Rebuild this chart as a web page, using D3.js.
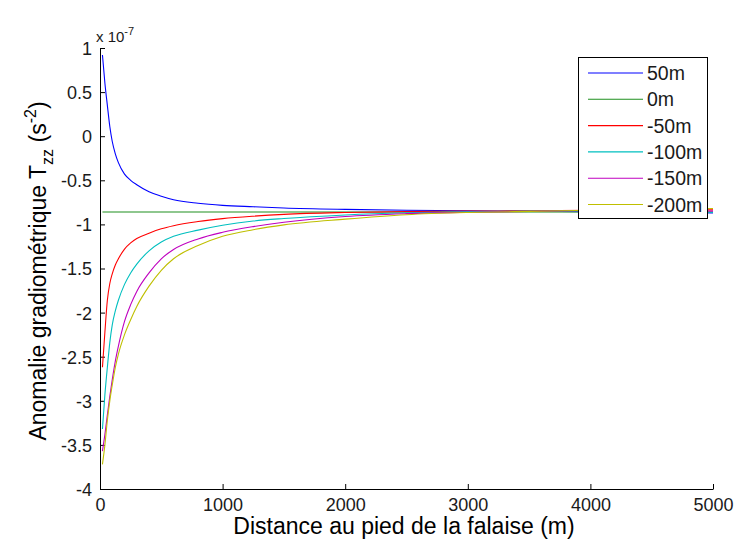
<!DOCTYPE html>
<html><head><meta charset="utf-8">
<script src="https://cdn.jsdelivr.net/npm/d3@7"></script>
<style>
html,body{margin:0;padding:0;background:#fff;}
svg{display:block;font-family:"Liberation Sans",Arial,sans-serif;}
</style></head>
<body><svg id="chart" width="738" height="544"></svg>
<script>
// distances (m)
const distances = [20, 40, 60, 80, 100, 125, 150, 200, 250, 300, 400, 500, 600, 800, 1000, 1250, 1500, 2000, 2500, 3000, 3500, 4000, 4500, 5000];
// Tzz anomaly in units of 1e-7 s^-2
const s50   = [0.92, 0.60, 0.35, 0.11, -0.06, -0.20, -0.30, -0.43, -0.50, -0.55, -0.63, -0.68, -0.72, -0.76, -0.784, -0.80, -0.814, -0.83, -0.84, -0.845, -0.85, -0.855, -0.86, -0.87];
const s0    = [-0.86, -0.86, -0.86, -0.86, -0.86, -0.86, -0.86, -0.86, -0.86, -0.86, -0.86, -0.86, -0.86, -0.86, -0.86, -0.86, -0.86, -0.86, -0.86, -0.86, -0.86, -0.86, -0.86, -0.86];
const sm50  = [-2.62, -2.22, -1.86, -1.67, -1.56, -1.46, -1.39, -1.28, -1.21, -1.16, -1.10, -1.05, -1.015, -0.968, -0.935, -0.907, -0.886, -0.865, -0.855, -0.85, -0.845, -0.84, -0.835, -0.835];
const sm100 = [-3.32, -2.93, -2.62, -2.34, -2.14, -1.98, -1.86, -1.68, -1.55, -1.45, -1.30, -1.20, -1.135, -1.065, -1.01, -0.962, -0.933, -0.893, -0.868, -0.855, -0.85, -0.85, -0.855, -0.865];
const sm150 = [-3.57, -3.38, -3.16, -2.95, -2.76, -2.55, -2.38, -2.10, -1.91, -1.76, -1.55, -1.39, -1.285, -1.165, -1.09, -1.025, -0.975, -0.91, -0.878, -0.862, -0.852, -0.845, -0.845, -0.85];
const sm200 = [-3.72, -3.50, -3.22, -3.00, -2.82, -2.62, -2.47, -2.25, -2.08, -1.93, -1.70, -1.52, -1.39, -1.24, -1.135, -1.06, -1.005, -0.94, -0.89, -0.865, -0.852, -0.84, -0.83, -0.82];
const seriesNames = ["50m", "0m", "-50m", "-100m", "-150m", "-200m"];
const seriesValues = [s50, s0, sm50, sm100, sm150, sm200];
const seriesColors = ["#0000ff", "#1f8f1f", "#ff0000", "#00bfbf", "#bf00bf", "#bfbf00"];
const xTicks = [0, 1000, 2000, 3000, 4000, 5000];
const yTicks = [1, 0.5, 0, -0.5, -1, -1.5, -2, -2.5, -3, -3.5, -4];

const svg = d3.select("#chart");
const L = 100, R = 713, T = 48, B = 489;
const x = d3.scaleLinear().domain([0, 5000]).range([L, R]);
const y = d3.scaleLinear().domain([-4, 1]).range([B, T]);

// axes
const xAxis = d3.axisBottom(x).tickValues(xTicks).tickSizeInner(-5).tickSizeOuter(0).tickPadding(9).tickFormat(d3.format("d"));
const gx = svg.append("g").attr("transform", `translate(0,${B})`).call(xAxis);
const yAxis = d3.axisLeft(y).tickValues(yTicks).tickSizeInner(-5).tickSizeOuter(0).tickPadding(8).tickFormat(d => String(d));
const gy = svg.append("g").attr("transform", `translate(${L},0)`).call(yAxis);
[gx, gy].forEach(g => {
  g.selectAll("path").attr("stroke", "#000").attr("stroke-width", 1);
  g.selectAll("line").attr("stroke", "#000");
  g.selectAll("text").attr("fill", "#1a1a1a").style("font-size", "18px").style("font-family", "'Liberation Sans', Arial, sans-serif");
});
gy.selectAll("text").attr("dy", "0.36em");

// exponent label
const ex = svg.append("text").attr("x", 96).attr("y", 42).attr("fill", "#1a1a1a").style("font-size", "15px");
ex.append("tspan").text("x 10");
ex.append("tspan").attr("dy", -7).style("font-size", "11px").text("-7");

// lines
const line = d3.line().x((d, i) => x(distances[i])).y(d => y(d)).curve(d3.curveMonotoneX);
seriesValues.forEach((vals, k) => {
  svg.append("path").datum(vals).attr("d", line)
    .attr("fill", "none").attr("stroke", seriesColors[k]).attr("stroke-width", 1.1);
});

// axis titles
svg.append("text").attr("x", 404).attr("y", 534).attr("text-anchor", "middle")
  .style("font-size", "23px").attr("fill", "#000").text("Distance au pied de la falaise (m)");
const yl = svg.append("text").attr("transform", "translate(46,271) rotate(-90)").attr("text-anchor", "middle")
  .style("font-size", "23px").attr("fill", "#000");
yl.append("tspan").text("Anomalie gradiométrique T");
yl.append("tspan").attr("dy", 7).style("font-size", "16px").text("zz");
yl.append("tspan").attr("dy", -7).text(" (s");
yl.append("tspan").attr("dy", -10).style("font-size", "16px").text("-2");
yl.append("tspan").attr("dy", 10).text(")");

// legend
const lg = svg.append("g");
lg.append("rect").attr("x", 578.5).attr("y", 57.5).attr("width", 129).attr("height", 161)
  .attr("fill", "#fff").attr("stroke", "#000").attr("stroke-width", 1);
seriesNames.forEach((n, k) => {
  const yy = 73 + k * 26.3;
  lg.append("line").attr("x1", 588).attr("x2", 643).attr("y1", yy).attr("y2", yy)
    .attr("stroke", seriesColors[k]).attr("stroke-width", 1.1);
  lg.append("text").attr("x", 647).attr("y", yy).attr("dy", "0.36em")
    .style("font-size", "19.5px").attr("fill", "#1a1a1a").text(n);
});
</script>
</body></html>
